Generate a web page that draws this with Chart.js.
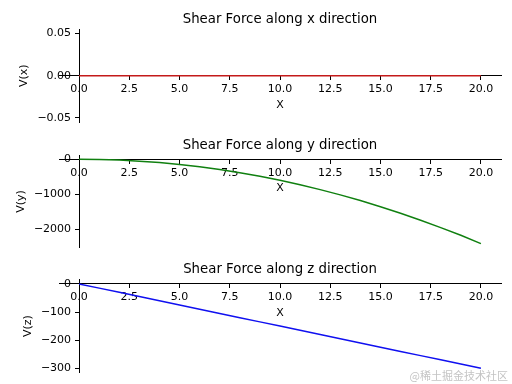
<!DOCTYPE html>
<html>
<head>
<meta charset="utf-8">
<script src="https://cdn.jsdelivr.net/npm/chart.js@4.4.1/dist/chart.umd.min.js"></script>
<style>
  html, body { margin: 0; padding: 0; background: #fff; width: 512px; height: 384px; overflow: hidden; }
  .panel { position: absolute; left: 0; width: 512px; height: 136px; }
  #wm { position: absolute; right: 4px; bottom: 1px; font: 11px "Noto Sans CJK SC"; color: #c4c4c4; }
</style>
</head>
<body>
<div class="panel" style="top:0px"><canvas id="c0" width="512" height="136"></canvas></div>
<div class="panel" style="top:125px"><canvas id="c1" width="512" height="136"></canvas></div>
<div class="panel" style="top:250px"><canvas id="c2" width="512" height="136"></canvas></div>
<div id="wm">@稀土掘金技术社区</div>
<script>
// positions along the beam
const positions = [0, 1, 2, 3, 4, 5, 6, 7, 8, 9, 10, 11, 12, 13, 14, 15, 16, 17, 18, 19, 20];

// shear force values
const shearX = [0, 0, 0, 0, 0, 0, 0, 0, 0, 0, 0, 0, 0, 0, 0, 0, 0, 0, 0, 0, 0];
const shearY = [0, -5, -25, -55, -95, -150, -215, -295, -385, -485, -600,
  -725, -865, -1015, -1175, -1350, -1535, -1735, -1945, -2165, -2400];
const shearZ = [0, -15, -30, -45, -60, -75, -90, -105, -120, -135, -150,
  -165, -180, -195, -210, -225, -240, -255, -270, -285, -300];

// tick labels
const xTicks = [0, 2.5, 5, 7.5, 10, 12.5, 15, 17.5, 20];
const xTickLabels = ["0.0", "2.5", "5.0", "7.5", "10.0", "12.5", "15.0", "17.5", "20.0"];
const yTicksX = [0.05, 0, -0.05];
const yTickLabelsX = ["0.05", "0.00", "\u22120.05"];
const yTicksY = [0, -1000, -2000];
const yTickLabelsY = ["0", "\u22121000", "\u22122000"];
const yTicksZ = [0, -100, -200, -300];
const yTickLabelsZ = ["0", "\u2212100", "\u2212200", "\u2212300"];

const titles = ["Shear Force along x direction", "Shear Force along y direction", "Shear Force along z direction"];
const yLabels = ["V(x)", "V(y)", "V(z)"];
const xLabel = "X";

const FONT = "DejaVu Sans";

// linear scale whose labels keep clear of the tick marks when the axis sits at x = 0
class CentredLinearScale extends Chart.LinearScale {
  static id = "centredLinear";
  _computeLabelItems(chartArea) {
    const items = super._computeLabelItems(chartArea);
    if (!this.isHorizontal()) {
      const shift = this.options.grid.tickLength + this.options.ticks.padding;
      items.forEach((it) => { it.options.translation[0] -= shift; });
    }
    return items;
  }
}
Chart.register(CentredLinearScale);

// axis labels: matplotlib puts them next to the tick labels, even with centred spines
const axisText = {
  id: "axisText",
  afterDraw(chart, args, opts) {
    const { ctx, chartArea, scales: { x, y } } = chart;
    ctx.save();
    ctx.fillStyle = "#000";
    ctx.textAlign = "center";
    ctx.textBaseline = "alphabetic";

    ctx.font = `13.3px "${FONT}"`;
    ctx.fillText(opts.title, (chartArea.left + chartArea.right) / 2, chartArea.top - 6.5);

    ctx.font = `11px "${FONT}"`;
    ctx.fillText(opts.xLabel, (chartArea.left + chartArea.right) / 2, y.getPixelForValue(0) + 32);

    const widest = Math.max(...y.ticks.map((t) => ctx.measureText(t.label).width));
    const lx = x.getPixelForValue(0) - 8 - widest - 7.5;
    ctx.translate(lx, (chartArea.top + chartArea.bottom) / 2);
    ctx.rotate(-Math.PI / 2);
    ctx.textBaseline = "bottom";
    ctx.fillText(opts.yLabel, 0, 0);
    ctx.restore();
  },
};

function makeChart(id, idx, values, color, yMin, yMax, yTicks, yTickLabels, padTop) {
  const areaH = 92.8;
  return new Chart(document.getElementById(id), {
    type: "line",
    data: {
      datasets: [
        {
          data: positions.map((p, i) => ({ x: p, y: values[i] })),
          borderColor: color,
          borderWidth: 1.5,
          pointRadius: 0,
          tension: 0,
        },
      ],
    },
    plugins: [axisText],
    options: {
      responsive: false,
      animation: false,
      layout: { padding: { left: 59, right: 11, top: padTop, bottom: 136 - padTop - areaH } },
      plugins: {
        legend: { display: false },
        tooltip: { enabled: false },
        title: { display: false },
        axisText: { xLabel: xLabel, yLabel: yLabels[idx], title: titles[idx] },
      },
      scales: {
        x: {
          type: "linear",
          min: -1,
          max: 21,
          position: { y: 0 },
          afterFit: (s) => { s.height = 0; },
          afterBuildTicks: (s) => { s.ticks = xTicks.map((v) => ({ value: v })); },
          grid: { drawOnChartArea: false, drawTicks: true, tickLength: 4, tickColor: "#000", tickWidth: 1 },
          border: { color: "#000", width: 1 },
          ticks: {
            color: "#000",
            padding: 3,
            maxRotation: 0,
            autoSkip: false,
            font: { family: FONT, size: 11 },
            callback: (v) => xTickLabels[xTicks.indexOf(v)],
          },
        },
        y: {
          type: "centredLinear",
          min: yMin,
          max: yMax,
          position: { x: 0 },
          afterFit: (s) => { s.width = 0; },
          afterBuildTicks: (s) => { s.ticks = yTicks.map((v) => ({ value: v })); },
          grid: { drawOnChartArea: false, drawTicks: true, tickLength: 4, tickColor: "#000", tickWidth: 1 },
          border: { color: "#000", width: 1 },
          ticks: {
            color: "#000",
            padding: 4,
            autoSkip: false,
            font: { family: FONT, size: 11 },
            callback: (v) => yTickLabels[yTicks.indexOf(v)],
          },
        },
      },
    },
  });
}

makeChart("c0", 0, shearX, "#c41a1a", -0.055, 0.055, yTicksX, yTickLabelsX, 29.3);
makeChart("c1", 1, shearY, "#108010", -2520, 120, yTicksY, yTickLabelsY, 30);
makeChart("c2", 2, shearZ, "#1010f0", -315, 15, yTicksZ, yTickLabelsZ, 29.7);
</script>
</body>
</html>
